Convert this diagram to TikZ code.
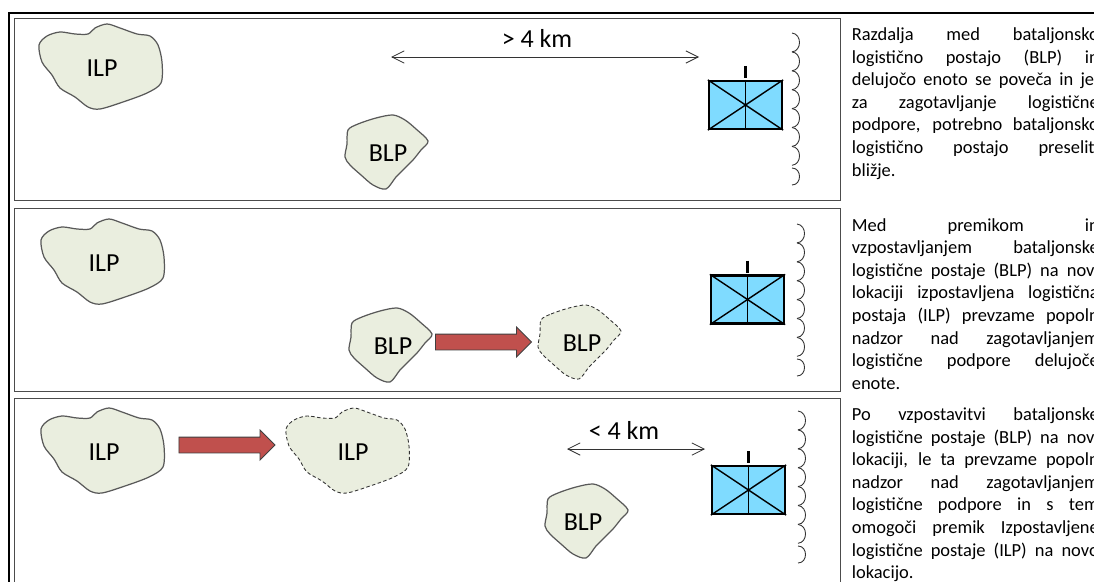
\documentclass[tikz,border=0pt]{standalone}
\usepackage{fontspec}
\setmainfont{Carlito}
\usetikzlibrary{arrows.meta}
\usetikzlibrary{shapes.arrows}

\begin{document}
\begin{tikzpicture}[x=0.02cm,y=-0.02cm]
  \tikzset{frame/.style = {draw=black!70,line width=0.5pt}}
  \tikzset{blob/.style = {draw=black!65,fill=blobfill,line width=0.7pt}}
  \tikzset{ghost/.style = {blob,draw=black!80,dash pattern=on 2pt off 1.4pt,line width=0.5pt}}
  \tikzset{label/.style = {font=\fontsize{14.8}{18}\selectfont,inner sep=0pt}}
  \tikzset{edge/.style = {{Straight Barb[length=7pt,width=7pt]}-{Straight Barb[length=7pt,width=7pt]},line width=0.45pt,black!80}}
  \tikzset{move/.style = {shape=single arrow,draw=black!75,fill=moved,line width=0.5pt,inner sep=0pt,
    text height=0.30cm,text depth=0pt,minimum height=1.92cm,single arrow head extend=0.14cm,single arrow head indent=0pt}}
  \tikzset{para/.style = {anchor=north west,inner sep=0pt,text width=4.94cm,align=justify,
    font=\fontsize{10.5}{12.85}\selectfont}}
  \tikzset{unitbox/.style = {shape=rectangle,draw=black,fill=unitfill,line width=1.3pt,
    minimum width=1.46cm,minimum height=0.96cm,inner sep=0pt}}
  \definecolor{blobfill}{HTML}{EAEEDF}
  \definecolor{unitfill}{HTML}{7FDBFF}
  \definecolor{moved}{HTML}{C0504D}

  \tikzset{ilpblob/.pic = {
    \draw[pic actions] plot[smooth cycle,tension=0.5] coordinates {(-63,-23) (-55,-32) (-42,-36) (-27,-34) (-14,-34) (-7,-40)
      (5,-44) (18,-40) (35,-34) (48,-32) (56,-23) (60,-6) (59,15) (45,25) (21,34) (-2,41) (-14,39) (-27,29) (-42,20) (-50,7) (-60,-6)};
  }}
  \tikzset{blpblob/.pic = {
    \draw[pic actions] plot[smooth cycle,tension=0.5] coordinates {(-40,-23) (-30,-29) (-12,-35) (5,-38) (17,-33) (28,-24)
      (40,-12) (33,-3) (25,7) (18,14) (8,24) (-2,36) (-15,32) (-27,22) (-38,12) (-43,4) (-41,-9)};
  }}
  \tikzset{unitsym/.pic = {
    \node[unitbox] (-box) at (0,0) {};
    \draw[line width=0.8pt] (-box.north west) -- (-box.south east);
    \draw[line width=0.8pt] (-box.south west) -- (-box.north east);
    \draw[line width=0.8pt] (-box.north) -- (-box.south);
    \coordinate (-tick) at (0,-39);
    \draw[line width=1.6pt] (-tick) -- +(0,12);
  }}
  \tikzset{scallops/.pic = {
    \foreach \k in {0,...,6}
      \draw[line width=0.5pt,black!80] (0,18.9*\k) .. controls (10,18.9*\k+1) and (10,18.9*\k+18) .. (0,18.9*\k+18.9);
    \draw[line width=0.5pt,black!80] (0,135) .. controls (10,135) and (10,152) .. (0,152);
  }}

  \useasboundingbox (0,0) rectangle (1094,581);
  \clip (0,0) rectangle (1094,581);
  \fill[white] (0,0) rectangle (1094,581);

  \draw[line width=1.1pt] (9,600) -- (9,13) -- (1100,13);
  \draw[frame] (14,18) rectangle (840,200);
  \draw[frame] (14,208) rectangle (840,391);
  \draw[frame] (14,600) -- (14,398) -- (840,398) -- (840,600);

  \pic[blob] at (102,68) {ilpblob};
  \node[label] (ilpa) at (102,68) {ILP};
  \pic[blob] at (388,153) {blpblob};
  \node[label] (blpa) at (388,153) {BLP};
  \pic (unita) at (745.5,105) {unitsym};
  \pic at (792,33) {scallops};
  \node[label] (fara) at (537,38) {> 4 km};
  \coordinate (fara w) at (391,57);
  \coordinate (fara e) at (699,57);
  \draw[edge] (fara w) to (fara e);

  \pic[blob] at (104,263) {ilpblob};
  \node[label] (ilpb) at (104,263) {ILP};
  \pic[blob] at (392,346) {blpblob};
  \node[label] (blpb) at (393,346) {BLP};
  \pic[ghost] at (581,343) {blpblob};
  \node[label] (blpc) at (582,343) {BLP};
  \node[move] (moveb) at (479.5,342) {};
  \pic (unitb) at (747.5,299.5) {unitsym};
  \pic at (797,224) {scallops};

  \pic[blob] at (104,452) {ilpblob};
  \node[label] (ilpc) at (104,452) {ILP};
  \pic[ghost] at (349,452) {ilpblob};
  \node[label] (ilpd) at (353,452) {ILP};
  \node[move] (movec) at (223,445) {};
  \pic[blob] at (588,522) {blpblob};
  \node[label] (blpd) at (583,522) {BLP};
  \pic (unitc) at (748.5,490) {unitsym};
  \pic at (798,411) {scallops};
  \node[label] (nearc) at (624,430) {< 4 km};
  \coordinate (nearc w) at (567,449);
  \coordinate (nearc e) at (705,449);
  \draw[edge] (nearc w) to (nearc e);

  \node[para] (texta) at (851.5,27.5) {Razdalja med bataljonsko\linebreak logistično postajo (BLP) in\linebreak delujočo enoto se poveča in je,\linebreak za zagotavljanje logistične\linebreak podpore, potrebno bataljonsko\linebreak logistično postajo preseliti\linebreak bližje.};
  \node[para] (textb) at (851.5,218) {Med premikom in\linebreak vzpostavljanjem bataljonske\linebreak logistične postaje (BLP) na novi\linebreak lokaciji izpostavljena logistična\linebreak postaja (ILP) prevzame popoln\linebreak nadzor nad zagotavljanjem\linebreak logistične podpore delujoče\linebreak enote.};
  \node[para] (textc) at (851.5,407.5) {Po vzpostavitvi bataljonske\linebreak logistične postaje (BLP) na novi\linebreak lokaciji, le ta prevzame popoln\linebreak nadzor nad zagotavljanjem\linebreak logistične podpore in s tem\linebreak omogoči premik Izpostavljene\linebreak logistične postaje (ILP) na novo\linebreak lokacijo.};

\end{tikzpicture}
\end{document}
